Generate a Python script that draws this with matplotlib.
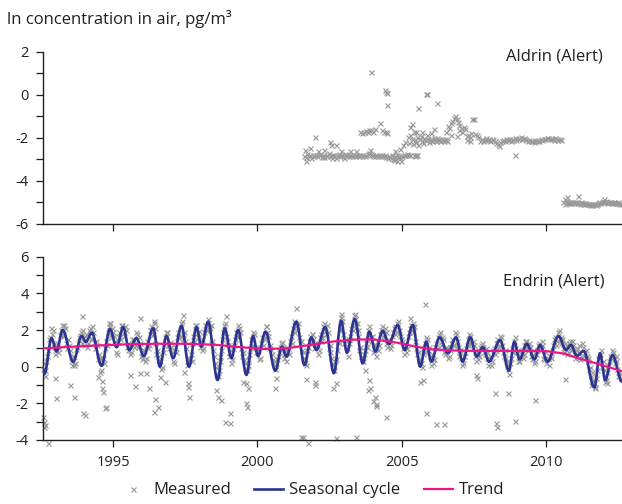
import matplotlib
matplotlib.use("Agg")
import matplotlib.pyplot as plt
from matplotlib.path import Path
from matplotlib.patches import PathPatch
from matplotlib.lines import Line2D
from matplotlib.ticker import MultipleLocator

plt.rcParams["font.family"] = ["Open Sans", "DejaVu Sans"]
plt.rcParams["axes.unicode_minus"] = False

# ---------------------------------------------------------------- data
x_ticks = [1995, 2000, 2005, 2010]
x_range = (1992.56, 2012.63)

# Aldrin, weekly-ish samples: (start year, step, values)
aldrin_band_2001 = [
    -2.82, -2.88, -2.76, -2.85, -2.80, -2.92, -2.78, -2.84, -2.79, -2.86,
    -2.81, -2.75, -2.87, -2.80, -2.90, -2.77, -2.83, -2.72, -2.86, -2.79,
    -2.84, -2.78, -2.92, -2.80, -2.76, -2.85, -2.79, -2.83, -2.74, -2.82,
    -2.80, -2.86, -2.77, -2.83, -2.79, -2.85, -2.81, -2.78, -2.84, -2.80,
    -2.83, -2.77, -2.82, -2.79, -2.74, -2.70, -2.76, -2.80, -2.82, -2.85,
    -2.81, -2.84, -2.79, -2.83, -2.80, -2.86, -2.78, -2.88, -2.92, -2.84,
    -2.95, -2.80, -3.02, -2.86, -2.78, -2.90, -2.84, -3.05, -2.82, -2.78,
    -2.80, -2.76, -2.79, -2.81]
aldrin_band_2005a = [-2.80, -2.82, -2.79, -2.81]
aldrin_band_2005b = [
    -1.95, -2.25, -1.85, -2.05, -2.30, -1.70, -2.10, -2.20, -1.95, -2.35,
    -2.05, -1.90, -2.15, -2.25, -2.00, -2.10, -1.85, -2.05, -2.20, -2.10,
    -2.05, -2.12, -2.00, -2.08, -2.15, -2.02, -2.10, -2.06, -2.12, -2.04,
    -2.08, -2.12, -2.05, -2.10, -2.14]
aldrin_band_2007 = [
    -2.12, -2.05, -2.15, -2.08, -2.02, -2.10, -2.06, -2.13, -2.04, -2.09,
    -2.15, -2.22, -2.30, -2.38, -2.20, -2.12, -2.08, -2.14, -2.05, -2.10,
    -2.07, -2.12, -2.04, -2.09, -2.02, -2.11, -2.06, -2.00, -1.96, -2.03,
    -1.98, -2.05, -2.10, -2.14, -2.08, -2.16, -2.12, -2.18, -2.10, -2.14,
    -2.08, -2.12, -2.05, -2.10, -2.03, -2.07, -1.98, -2.02, -2.06, -2.01,
    -2.04, -2.08, -2.02, -2.06, -2.10, -2.05, -2.08]
aldrin_band_2010 = [
    -4.98, -5.05, -4.95, -5.02, -4.99, -5.04, -4.96, -5.01, -4.97, -5.03,
    -5.00, -4.97, -5.04, -5.01, -5.06, -4.99, -5.03, -5.05, -5.02, -5.07,
    -5.04, -5.08, -5.05, -5.10, -5.07, -5.12, -5.09, -5.06, -5.10, -5.05,
    -5.03, -4.99, -5.02, -4.96, -4.93, -4.98, -5.00, -4.95, -5.01, -4.97,
    -5.00, -4.98, -5.03, -5.01, -4.99, -5.04, -5.02, -5.00, -5.05, -5.03,
    -5.06]
aldrin_bands = [
    (2001.62, 0.05, aldrin_band_2001),
    (2005.42, 0.04, aldrin_band_2005a),
    (2005.22, 0.04, aldrin_band_2005b),
    (2007.72, 0.05, aldrin_band_2007),
    (2010.60, 0.04, aldrin_band_2010),
]
# individual Aldrin samples off the main bands
aldrin_points = [
    (2001.65, -2.55), (2001.70, -3.05), (2001.82, -2.48), (2001.98, -1.94),
    (2002.10, -2.60), (2002.30, -2.55), (2002.50, -2.20), (2002.55, -2.35),
    (2002.72, -2.33), (2002.60, -2.95), (2002.90, -2.60), (2003.00, -2.95),
    (2003.20, -2.60), (2003.40, -2.60), (2003.90, -2.55), (2004.23, -1.29),
    (2003.55, -1.72), (2003.62, -1.75), (2003.68, -1.70), (2003.75, -1.68),
    (2003.82, -1.72), (2003.88, -1.65), (2003.95, -1.62), (2004.02, -1.70),
    (2004.08, -1.60), (2004.30, -1.65), (2004.38, -1.72), (2004.45, -1.70),
    (2004.50, -1.78), (2003.93, 1.05), (2004.42, 0.25), (2004.47, 0.15),
    (2004.50, 0.10), (2004.48, -0.45), (2004.70, -3.00), (2004.75, -2.60),
    (2004.85, -3.05), (2004.95, -2.50), (2005.05, -2.35), (2005.10, -2.20),
    (2004.90, -2.90), (2005.58, -0.62), (2005.83, 0.03), (2005.87, 0.05),
    (2006.22, -0.39), (2005.30, -1.50), (2005.35, -1.35), (2005.50, -1.70),
    (2005.70, -1.70), (2006.00, -1.75), (2006.10, -1.60),
    (2006.55, -1.70), (2006.60, -1.45), (2006.65, -1.55), (2006.70, -1.30),
    (2006.75, -1.20), (2006.80, -1.05), (2006.85, -1.00), (2006.90, -1.10),
    (2006.95, -1.25), (2007.00, -1.40), (2007.05, -1.55), (2007.10, -1.70),
    (2007.15, -1.50), (2007.20, -1.60), (2007.25, -1.90), (2007.30, -1.85),
    (2007.35, -1.95), (2007.40, -1.75), (2007.45, -1.10), (2007.50, -1.12),
    (2007.55, -1.80), (2007.60, -1.85), (2007.65, -1.95), (2006.90, -1.90),
    (2007.00, -1.65), (2006.70, -1.85), (2007.35, -2.15), (2007.25, -2.10),
    (2008.91, -2.79), (2010.65, -4.85), (2010.72, -4.76), (2011.10, -4.68),
    (2012.00, -4.85),
]

# Endrin, two interleaved sample runs of 16 per year:
# (year, first slot, run at slot+1/2, run at slot)
endrin_1992 = [0.2, -0.5, 0.6, 1.5, 2.1, 2.0, 1.3]
endrin_1992b = [-0.1, -0.2, 0.3, 0.9, 1.6, 1.8, 1.1]
endrin_1993 = [1.15, 0.8, 1.75, 2.25, 1.8, 2.1, 1.0, 1.2, 0.3, 0.6, 0.1, 0.95, 1.3, 1.75, 2.0, 1.4]
endrin_1993b = [0.7, 1.3, 1.0, 2.0, 1.7, 2.3, 1.3, 1.5, 0.9, 0.1, 0.6, 0.2, 1.1, 1.6, 1.9, 1.3]
endrin_1994 = [1.7, 1.1, 2.0, 1.55, 2.2, 1.35, 1.4, 0.4, 0.5, -0.2, 0.45, 1.0, 1.2, 2.2, 1.75, 2.1]
endrin_1994b = [1.2, 1.8, 1.3, 2.1, 1.5, 1.9, 1.0, 1.2, 0.7, -0.3, 0.5, 0.2, 1.4, 1.9, 2.4, 1.6]
endrin_1995 = [1.7, 0.8, 1.4, 1.9, 2.3, 1.85, 2.2, 1.1, 1.3, 0.7, 1.5, 1.05, 1.9, 1.25, 1.6, 0.6]
endrin_1995b = [1.9, 1.4, 0.7, 1.6, 1.5, 2.3, 1.7, 2.0, 0.9, 1.2, 0.8, 1.5, 1.2, 1.8, 1.1, 1.3]
endrin_1996 = [0.9, 0.3, 1.2, 1.0, 2.0, 1.75, 2.4, 1.3, 0.9, 0.35, -0.1, 0.8, 1.6, 1.9, 1.2, 1.35]
endrin_1996b = [0.4, 0.9, 0.5, 1.4, 1.2, 2.2, 1.8, 2.1, 0.7, 0.6, 0.3, 0.0, 1.2, 1.3, 1.9, 1.0]
endrin_1997 = [0.8, 0.2, 1.1, 1.6, 1.55, 2.4, 1.8, 1.9, 1.0, 0.4, 0.5, 0.3, 1.7, 2.3, 1.85, 1.95]
endrin_1997b = [1.1, 0.3, 0.9, 0.8, 1.9, 1.7, 2.5, 1.5, 1.4, 0.1, 0.4, 0.7, 1.3, 1.4, 2.3, 1.6]
endrin_1998 = [1.4, 0.9, 1.9, 2.0, 2.6, 2.1, 1.3, 0.9, 0.2, -0.4, -0.2, 0.6, 1.5, 2.3, 1.7, 1.2]
endrin_1998b = [1.1, 1.5, 1.0, 2.3, 2.0, 2.2, 2.3, 1.4, 0.6, 0.0, -0.5, 0.3, 0.9, 1.9, 2.4, 1.4]
endrin_1999 = [0.6, 0.2, 1.0, 1.5, 1.7, 2.25, 1.9, 0.6, 0.35, -0.1, 0.1, 0.7, 1.5, 1.9, 1.1, 1.05]
endrin_1999b = [0.8, 0.9, 0.4, 1.2, 1.9, 1.6, 2.1, 1.0, 0.8, 0.2, -0.2, 0.4, 1.0, 1.2, 1.8, 0.8]
endrin_2000 = [0.9, 0.5, 1.6, 1.5, 2.2, 1.9, 1.0, 0.9, 0.4, 0.1, 0.2, 0.6, 1.1, 1.35, 0.7, 0.9]
endrin_2000b = [1.0, 0.4, 1.3, 1.2, 1.6, 2.2, 1.7, 1.2, 0.7, 0.3, -0.1, 0.4, 0.8, 1.3, 1.1, 0.5]
endrin_2001 = [0.9, 0.7, 1.7, 2.1, 2.5, 2.2, 2.4, 1.3, 0.9, 0.5, 0.2, 0.9, 1.4, 1.3, 1.8, 1.0]
endrin_2001b = [0.3, 1.0, 1.4, 1.3, 1.9, 2.4, 2.0, 1.6, 1.4, 0.8, 0.5, 0.1, 1.1, 1.7, 1.8, 1.5]
endrin_2002 = [1.2, 0.7, 1.6, 1.4, 2.2, 1.95, 2.3, 1.0, 0.8, 0.2, -0.2, 0.4, 1.4, 2.0, 2.7, 1.8]
endrin_2002b = [1.3, 1.2, 0.9, 1.8, 1.6, 2.4, 1.8, 1.9, 1.2, 0.5, 0.1, 0.3, 0.9, 1.3, 2.1, 2.5]
endrin_2003 = [1.5, 1.0, 1.3, 1.7, 2.3, 2.8, 2.2, 2.0, 0.9, 0.6, 0.3, 0.9, 1.1, 2.0, 1.6, 1.7]
endrin_2003b = [1.3, 1.4, 0.6, 1.5, 2.1, 2.0, 2.6, 2.4, 1.7, 1.1, 0.5, 0.7, 1.3, 1.5, 2.2, 1.4]
endrin_2004 = [1.2, 0.6, 1.4, 1.2, 2.0, 1.7, 2.1, 1.3, 1.5, 1.0, 1.7, 2.1, 1.8, 2.4, 2.0, 1.5]
endrin_2004b = [0.8, 1.1, 1.2, 0.9, 1.8, 2.2, 1.6, 1.9, 1.1, 1.4, 1.2, 1.9, 2.2, 1.9, 2.5, 1.7]
endrin_2005 = [1.0, 1.3, 0.8, 1.7, 2.1, 2.0, 2.4, 1.4, 0.7, 0.4, 0.2, 0.7, 0.8, 1.6, 0.9, 0.6]
endrin_2005b = [1.4, 0.7, 1.2, 1.0, 1.9, 2.3, 1.9, 2.2, 1.0, 0.8, 0.4, 0.0, 1.0, 1.3, 1.5, 1.1]
endrin_2006 = [0.5, 0.2, 1.1, 1.0, 1.8, 1.4, 1.6, 0.8, 1.1, 0.5, 0.9, 1.3, 1.2, 1.9, 1.4, 0.9]
endrin_2006b = [0.1, 0.7, 0.4, 1.3, 1.6, 1.9, 1.2, 1.5, 0.7, 1.0, 0.6, 1.1, 1.5, 1.2, 1.8, 1.1]
endrin_2007 = [0.9, 0.1, 0.6, 1.0, 1.5, 1.8, 1.3, 1.4, 0.6, 0.8, 0.4, 1.1, 1.3, 0.8, 1.0, 0.5]
endrin_2007b = [0.6, 0.5, 0.2, 0.8, 1.2, 1.3, 1.7, 1.0, 1.2, 0.3, 0.9, 0.6, 1.2, 1.1, 0.7, 0.8]
endrin_2008 = [0.5, 0.1, 0.9, 0.7, 1.3, 1.1, 1.7, 1.2, 0.6, 0.5, 0.1, -0.4, 0.5, 0.8, 1.6, 0.8]
endrin_2008b = [0.1, 0.6, 0.3, 1.0, 0.9, 1.5, 1.2, 1.6, 0.8, 0.9, 0.3, -0.1, 0.2, 1.0, 1.4, 1.0]
endrin_2009 = [0.3, 0.6, 0.9, 0.7, 1.4, 1.1, 1.3, 0.6, 0.9, 0.2, 0.7, 1.2, 0.9, 1.4, 0.5, 0.8]
endrin_2009b = [0.9, 0.3, 0.7, 0.5, 1.2, 1.4, 0.9, 1.1, 0.4, 0.7, 0.3, 0.9, 1.3, 1.0, 1.2, 0.4]
endrin_2010 = [0.5, 0.1, 0.8, 0.9, 1.5, 1.2, 1.9, 1.5, 1.6, 1.0, 1.3, 0.7, 1.3, 1.0, 1.4, 0.7]
endrin_2010b = [0.2, 0.5, 0.6, 0.5, 1.2, 1.6, 1.4, 2.0, 1.3, 1.5, 0.8, 1.2, 0.8, 1.4, 0.9, 1.2]
endrin_2011 = [0.9, 0.5, 1.2, 0.6, 1.1, 0.8, 0.6, 0.3, 0.0, -0.3, -0.9, -0.6, 0.2, 0.5, 0.9, 0.3]
endrin_2011b = [0.5, 1.0, 0.8, 0.4, 1.3, 0.6, 0.9, 0.5, -0.1, -0.5, -0.7, -1.1, -0.2, 0.4, 0.7, 0.0]
endrin_2012 = [-0.5, -0.9, 0.1, 0.6, 0.9, 0.4, 0.6, -0.1, -0.3, -0.6]
endrin_2012b = [-0.2, -0.7, -0.3, 0.3, 0.5, 0.8, 0.2, 0.3, -0.5, -0.4]
endrin_years = [
    (1992, 9, endrin_1992, endrin_1992b), (1993, 0, endrin_1993, endrin_1993b),
    (1994, 0, endrin_1994, endrin_1994b), (1995, 0, endrin_1995, endrin_1995b),
    (1996, 0, endrin_1996, endrin_1996b), (1997, 0, endrin_1997, endrin_1997b),
    (1998, 0, endrin_1998, endrin_1998b), (1999, 0, endrin_1999, endrin_1999b),
    (2000, 0, endrin_2000, endrin_2000b), (2001, 0, endrin_2001, endrin_2001b),
    (2002, 0, endrin_2002, endrin_2002b), (2003, 0, endrin_2003, endrin_2003b),
    (2004, 0, endrin_2004, endrin_2004b), (2005, 0, endrin_2005, endrin_2005b),
    (2006, 0, endrin_2006, endrin_2006b), (2007, 0, endrin_2007, endrin_2007b),
    (2008, 0, endrin_2008, endrin_2008b), (2009, 0, endrin_2009, endrin_2009b),
    (2010, 0, endrin_2010, endrin_2010b), (2011, 0, endrin_2011, endrin_2011b),
    (2012, 0, endrin_2012, endrin_2012b),
]
endrin_points = [
    (1992.57, -2.73), (1992.60, -3.00), (1992.62, -3.27), (1992.64, -3.20),
    (1992.76, -4.15), (1993.02, -1.73), (1993.00, -0.60), (1993.50, -1.00),
    (1993.65, -1.67), (1994.02, -2.64), (1993.97, -2.55), (1994.48, -0.55),
    (1994.60, -0.80), (1994.62, -1.18), (1994.72, -2.27), (1994.74, -2.20),
    (1994.66, -1.36), (1995.58, -0.45), (1995.75, -1.05), (1995.93, -0.36),
    (1996.13, -0.36), (1996.25, -1.18), (1996.42, -2.45), (1996.45, -1.78),
    (1996.57, -2.22), (1996.64, -0.58), (1996.79, -0.82), (1997.60, -1.09),
    (1997.61, -0.91), (1997.62, -1.64), (1997.45, -0.27), (1998.55, -1.27),
    (1998.64, -1.64), (1998.73, -1.82), (1998.87, -3.00), (1999.04, -2.55),
    (1999.04, -3.05), (1999.50, -0.82), (1999.62, -0.91), (1999.67, -1.18),
    (1999.62, -2.00), (1999.63, -2.18), (2000.60, -1.18), (2000.66, -0.64),
    (2001.52, -3.82), (2001.58, -3.82), (2001.75, -4.15), (2001.70, -0.69),
    (2001.98, -1.00), (2001.98, -0.82), (2002.62, -1.18), (2002.71, -3.90),
    (2002.73, -0.91), (2003.43, -3.85), (2003.71, -0.18), (2003.86, -0.73),
    (2003.83, -1.27), (2003.91, -1.18), (2004.06, -1.64), (2004.00, -1.86),
    (2004.12, -2.04), (2004.10, -2.15), (2004.44, -2.73), (2005.63, -0.82),
    (2005.72, -0.73), (2005.85, -2.54), (2006.17, -3.13), (2006.45, -3.13),
    (2007.58, -0.45), (2007.60, -0.64), (2008.22, -1.42), (2008.28, -3.09),
    (2008.30, -3.27), (2008.69, -1.42), (2008.91, -2.95), (2009.60, -1.82),
    (2010.67, -0.69), (2011.57, -1.00), (2011.70, -1.18), (2012.03, -0.82),
    (1993.91, 2.76), (1995.93, 2.64), (1997.42, 2.82), (1998.90, 2.76),
    (2001.35, 3.18), (2002.90, 2.87), (2003.37, 2.87), (2005.82, 3.42),
    (2005.30, 2.64), (1996.40, 2.50), (1994.90, 2.40),
]

# seasonal cycle: successive turning points (year, value)
seasonal_turns = [
    (1992.55, 0.00), (1992.62, -0.40), (1992.87, 1.55), (1993.04, 0.82),
    (1993.25, 2.00), (1993.62, 0.27), (1993.91, 1.67), (1994.06, 1.36),
    (1994.26, 1.85), (1994.60, 0.05), (1994.89, 2.05), (1995.12, 1.06),
    (1995.35, 2.15), (1995.56, 0.91), (1995.81, 1.55), (1996.06, 0.58),
    (1996.39, 2.09), (1996.62, 0.00), (1996.85, 1.67), (1997.08, 0.46),
    (1997.37, 2.22), (1997.63, 0.00), (1997.89, 2.15), (1998.06, 1.09),
    (1998.29, 2.45), (1998.62, -0.73), (1998.87, 2.09), (1999.10, 0.46),
    (1999.33, 2.00), (1999.62, -0.45), (1999.85, 1.67), (2000.02, 0.58),
    (2000.28, 1.91), (2000.62, -0.22), (2000.85, 1.09), (2001.00, 0.55),
    (2001.35, 2.45), (2001.63, 0.09), (2001.87, 1.60), (2002.04, 0.91),
    (2002.35, 2.15), (2002.65, -0.36), (2002.90, 2.51), (2003.10, 0.76),
    (2003.37, 2.60), (2003.65, 0.18), (2003.88, 1.91), (2004.09, 0.82),
    (2004.34, 1.96), (2004.55, 1.24), (2004.86, 2.27), (2005.10, 0.91),
    (2005.38, 2.27), (2005.64, 0.00), (2005.85, 1.36), (2006.02, 0.27),
    (2006.31, 1.60), (2006.60, 0.73), (2006.88, 1.60), (2007.11, 0.27),
    (2007.37, 1.60), (2007.60, 0.55), (2007.81, 1.06), (2008.02, 0.27),
    (2008.41, 1.45), (2008.71, -0.22), (2008.90, 1.36), (2009.08, 0.40),
    (2009.33, 1.24), (2009.60, 0.40), (2009.79, 1.18), (2010.05, 0.27),
    (2010.43, 1.67), (2010.69, 0.91), (2010.86, 1.18), (2011.07, 0.60),
    (2011.30, 0.85), (2011.67, -1.13), (2011.87, 0.73), (2012.05, -0.73),
    (2012.30, 0.64), (2012.63, -0.82),
]

trend_years = [1992.56, 1993.5, 1994.5, 1995.5, 1996.5, 1997.5, 1998.5,
               1999.3, 2000.2, 2001.0, 2001.8, 2002.6, 2003.3, 2004.0,
               2004.8, 2005.4, 2006.0, 2007.0, 2008.0, 2009.0, 2010.0,
               2010.6, 2011.2, 2011.8, 2012.63]
trend_values = [1.00, 1.08, 1.16, 1.22, 1.25, 1.25, 1.20, 1.08, 0.96,
                1.00, 1.18, 1.37, 1.47, 1.49, 1.32, 1.12, 0.95, 0.87,
                0.86, 0.86, 0.85, 0.72, 0.42, 0.15, -0.25]

# ---------------------------------------------------------------- style
GREY = "#999999"
NAVY = "#2b3491"
MAGENTA = "#ec168c"
AXIS = "#231f20"
FS_TICK = 10.5
FS_TEXT = 12

fig = plt.figure(figsize=(6.22, 5.04), dpi=100)
ax_top = fig.add_axes([0.0686, 0.5556, 0.9314, 0.3413])
ax_bot = fig.add_axes([0.0686, 0.1270, 0.9314, 0.3637])


def style_axis(ax, ylim, major, minor, labels_x):
    ax.set_xlim(*x_range)
    ax.set_ylim(*ylim)
    for side in ("top", "right"):
        ax.spines[side].set_visible(False)
    for side in ("left", "bottom"):
        ax.spines[side].set_color(AXIS)
        ax.spines[side].set_linewidth(1.0)
    ax.set_xticks(x_ticks)
    if not labels_x:
        ax.set_xticklabels([])
    ax.yaxis.set_major_locator(MultipleLocator(major))
    ax.yaxis.set_minor_locator(MultipleLocator(minor))
    ax.tick_params(axis="both", which="both", direction="out", length=5,
                   width=0.9, color=AXIS, labelsize=FS_TICK, labelcolor=AXIS)
    ax.tick_params(axis="x", pad=6)
    ax.tick_params(axis="y", pad=5)


def seasonal_path(turns, k=0.3642):
    verts = [turns[0]]
    codes = [Path.MOVETO]
    for (t0, v0), (t1, v1) in zip(turns[:-1], turns[1:]):
        dt = t1 - t0
        verts += [(t0 + k * dt, v0), (t1 - k * dt, v1), (t1, v1)]
        codes += [Path.CURVE4] * 3
    return Path(verts, codes)


marker_kw = dict(linestyle="none", marker="x", ms=3.6, mew=0.85, color=GREY)

# ---------------------------------------------------------------- Aldrin
style_axis(ax_top, (-6, 2), 2, 1, labels_x=False)
a_t, a_v = [], []
for start, step, vals in aldrin_bands:
    for i, v in enumerate(vals):
        a_t.append(start + i * step)
        a_v.append(v)
for t, v in aldrin_points:
    a_t.append(t)
    a_v.append(v)
ax_top.plot(a_t, a_v, **marker_kw)
ax_top.text(0.967, 0.975, "Aldrin (Alert)", transform=ax_top.transAxes,
            ha="right", va="center", fontsize=FS_TEXT, color=AXIS)

# ---------------------------------------------------------------- Endrin
style_axis(ax_bot, (-4, 6), 2, 1, labels_x=True)
e_t, e_v = [], []
for year, first, run_a, run_b in endrin_years:
    for i, v in enumerate(run_a):
        e_t.append(year + (first + i + 0.5) / 16)
        e_v.append(v)
    for i, v in enumerate(run_b):
        e_t.append(year + (first + i) / 16)
        e_v.append(v)
for t, v in endrin_points:
    e_t.append(t)
    e_v.append(v)
ax_bot.plot(e_t, e_v, clip_on=False, zorder=2, **marker_kw)
ax_bot.add_patch(PathPatch(seasonal_path(seasonal_turns), fill=False,
                           edgecolor=NAVY, lw=1.9, zorder=3,
                           capstyle="round", joinstyle="round"))
ax_bot.plot(trend_years, trend_values, color=MAGENTA, lw=1.6, zorder=4,
            solid_capstyle="butt")
ax_bot.text(0.969, 0.864, "Endrin (Alert)", transform=ax_bot.transAxes,
            ha="right", va="center", fontsize=FS_TEXT, color=AXIS)

fig.text(0.012, 0.963, "ln concentration in air, pg/m\u00b3", ha="left",
         va="center", fontsize=FS_TEXT, color=AXIS)

handles = [
    Line2D([], [], **marker_kw),
    Line2D([], [], color=NAVY, lw=1.9),
    Line2D([], [], color=MAGENTA, lw=1.6),
]
fig.legend(handles, ["Measured", "Seasonal cycle", "Trend"], loc="center",
           bbox_to_anchor=(0.5, 0.027), ncol=3, frameon=False,
           fontsize=FS_TEXT, handlelength=1.75, handletextpad=0.35,
           columnspacing=1.4, labelcolor=AXIS)

fig.savefig("out.png", dpi=100)
